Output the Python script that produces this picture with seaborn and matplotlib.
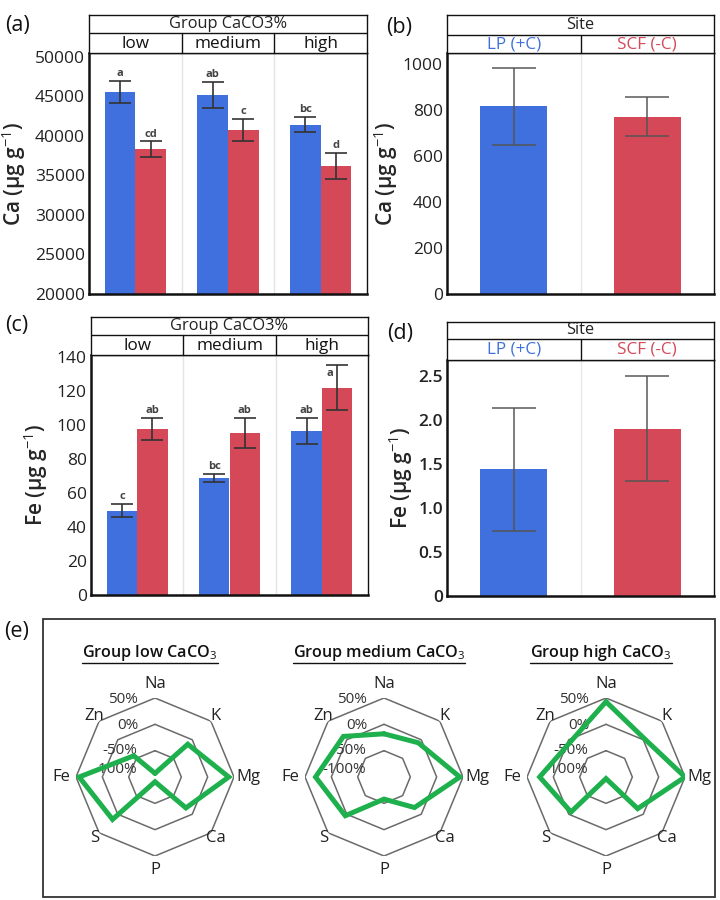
import numpy as np
import pandas as pd
import matplotlib
matplotlib.use("Agg")
import matplotlib.pyplot as plt
from matplotlib.lines import Line2D
from matplotlib.patches import Rectangle
import seaborn as sns

# ---- data ----
groups = ["low", "medium", "high"]
sites = ["LP (+C)", "SCF (-C)"]

ca_grp_lp = [45600, 45200, 41450]
ca_grp_scf = [38300, 40700, 36200]
ca_grp_lp_err = [1400, 1600, 1000]
ca_grp_scf_err = [1000, 1400, 1600]
ca_letters_lp = ["a", "ab", "bc"]
ca_letters_scf = ["cd", "c", "d"]

fe_grp_lp = [49.6, 68.8, 96.5]
fe_grp_scf = [97.5, 95.2, 121.8]
fe_grp_lp_err = [3.9, 2.2, 7.6]
fe_grp_scf_err = [6.4, 8.6, 13.4]
fe_letters_lp = ["c", "bc", "ab"]
fe_letters_scf = ["ab", "ab", "a"]

ca_site = [818, 772]
ca_site_err = [168, 85]
fe_site = [1.44, 1.90]
fe_site_err = [0.70, 0.595]

ca_grp_ticks = [20000, 25000, 30000, 35000, 40000, 45000, 50000]
fe_grp_ticks = [0, 20, 40, 60, 80, 100, 120, 140]
ca_site_ticks = [0, 200, 400, 600, 800, 1000]
fe_site_ticks = [0, 0.5, 1.0, 1.5, 2.0, 2.5]
fe_site_ticklabels = ["0", "0.5", "1.0", "1.5", "2.0", "2.5"]

elements = ["Na", "K", "Mg", "Ca", "P", "S", "Fe", "Zn"]
radar_titles = ["Group low CaCO$_3$", "Group medium CaCO$_3$", "Group high CaCO$_3$"]
radar_low = [-93, -12, 40, -17, -91, 14, 44, -43]
radar_medium = [-18, -8, 44, -18, -58, 4, 30, 9]
radar_high = [43, 3, 50, -15, -97, -6, 26, -5]
ring_levels = [-50, 0, 50]
ring_labels = ["50%", "0%", "-50%", "-100%"]

BLUE = "#4070dd"
RED = "#d44858"
GREEN = "#1fb04e"

sns.set_theme(style="white")
plt.rcParams["font.family"] = ["Open Sans", "DejaVu Sans"]
plt.rcParams["mathtext.fontset"] = "custom"
plt.rcParams["mathtext.rm"] = "Open Sans"
plt.rcParams["mathtext.it"] = "Open Sans:italic"
plt.rcParams["mathtext.bf"] = "Open Sans:bold"

W, H = 720, 900
fig = plt.figure(figsize=(7.2, 9), dpi=100)


def px_axes(x0, y0, x1, y1, **kw):
    # pixel box (top-left origin) -> figure axes
    return fig.add_axes([x0 / W, 1 - y1 / H, (x1 - x0) / W, (y1 - y0) / H], **kw)


def style_frame(ax, tick_weight="normal"):
    for side, sp in ax.spines.items():
        sp.set_visible(True)
        sp.set_color("#111111")
        sp.set_linewidth(1.8 if side in ("left", "bottom") else 1.0)
    ax.tick_params(axis="y", length=0, pad=3, labelsize=12.5, labelcolor="#222222")
    for lab in ax.get_yticklabels():
        lab.set_fontweight(tick_weight)
    ax.set_xticks([])
    ax.set_xlabel("")


def add_header(ax, y_top, y_mid, y_bot, title, labels, colors):
    pos = ax.get_position()
    hax = fig.add_axes([pos.x0, 1 - y_bot / H, pos.width, (y_bot - y_top) / H])
    hax.set_xlim(ax.get_xlim())
    hax.set_ylim(y_bot, y_top)
    hax.set_xticks([])
    hax.set_yticks([])
    for sp in hax.spines.values():
        sp.set_visible(True)
        sp.set_color("#111111")
        sp.set_linewidth(1.0)
    hax.axhline(y_mid, color="#111111", lw=1.0)
    for b in np.arange(0.5, len(labels) - 0.5, 1.0):
        hax.plot([b, b], [y_mid, y_bot], color="#111111", lw=1.0)
    xm = (len(labels) - 1) / 2
    hax.text(xm, (y_top + y_mid) / 2, title, ha="center", va="center",
             fontsize=11.8, color="#222222")
    for i, (lab, c) in enumerate(zip(labels, colors)):
        hax.text(i, (y_mid + y_bot) / 2 + 0.5, lab, ha="center", va="center",
                 fontsize=12.3, color=c)


def group_panel(ax, lp, scf, lp_err, scf_err, lp_let, scf_let, ylim, ticks, ylabel, pad):
    df = pd.DataFrame({
        "group": groups * 2,
        "site": [sites[0]] * len(groups) + [sites[1]] * len(groups),
        "value": lp + scf,
    })
    sns.barplot(data=df, x="group", y="value", hue="site", order=groups,
                hue_order=sites, palette=[BLUE, RED], width=0.66, gap=0,
                errorbar=None, legend=False, saturation=1, linewidth=0, ax=ax)
    errs = lp_err + scf_err
    letters = lp_let + scf_let
    for patch, err, let in zip(ax.patches, errs, letters):
        x = patch.get_x() + patch.get_width() / 2
        h = patch.get_height()
        ax.errorbar(x, h, yerr=err, color="#333333", lw=1.2, capsize=8, capthick=1.2)
        if h + err + 5 * pad > ylim[1]:
            # no room above the cap: tuck the letter under it, left of the bar
            ax.text(x - 0.04, h + err - 1.5 * pad, let, ha="right", va="top",
                    fontsize=8, color="#444444", fontweight="bold")
        else:
            ax.text(x, h + err + pad, let, ha="center", va="bottom", fontsize=8,
                    color="#444444", fontweight="bold")
    for b in [0.5, 1.5]:
        ax.axvline(b, color="#e4e4e4", lw=1.0, zorder=0)
    ax.set_xlim(-0.5, len(groups) - 0.5)
    ax.set_ylim(*ylim)
    ax.set_yticks(ticks)
    ax.set_ylabel(ylabel, fontsize=15, fontweight="semibold", labelpad=5)
    style_frame(ax)


def site_panel(ax, vals, errs, ylim, ticks, ticklabels, ylabel, tick_weight):
    df = pd.DataFrame({"site": sites, "value": vals})
    sns.barplot(data=df, x="site", y="value", hue="site", order=sites,
                palette=[BLUE, RED], width=0.5, errorbar=None, legend=False,
                saturation=1, linewidth=0, ax=ax)
    for patch, err in zip(ax.patches, errs):
        x = patch.get_x() + patch.get_width() / 2
        ax.errorbar(x, patch.get_height(), yerr=err, color="#555555", alpha=0.9,
                    lw=1.2, capsize=16, capthick=1.2)
    ax.axvline(0.5, color="#e8e8e8", lw=1.0, zorder=0)
    ax.set_xlim(-0.5, len(sites) - 0.5)
    ax.set_ylim(*ylim)
    ax.set_yticks(ticks)
    if ticklabels is not None:
        ax.set_yticklabels(ticklabels)
    ax.set_ylabel(ylabel, fontsize=15, fontweight="semibold", labelpad=2)
    style_frame(ax, tick_weight)


# (a)
ax_a = px_axes(89, 53, 367, 294)
group_panel(ax_a, ca_grp_lp, ca_grp_scf, ca_grp_lp_err, ca_grp_scf_err,
            ca_letters_lp, ca_letters_scf, (20000, 50500), ca_grp_ticks,
            "Ca (µg g$^{-1}$)", 250)
add_header(ax_a, 15, 33, 53, "Group CaCO3%", groups, ["#111111"] * 3)

# (b)
ax_b = px_axes(447, 53, 714, 294)
site_panel(ax_b, ca_site, ca_site_err, (0, 1050), ca_site_ticks, None,
           "Ca (µg g$^{-1}$)", "normal")
add_header(ax_b, 15, 35, 53, "Site", sites, [BLUE, RED])

# (c)
ax_c = px_axes(91, 355, 368, 595)
group_panel(ax_c, fe_grp_lp, fe_grp_scf, fe_grp_lp_err, fe_grp_scf_err,
            fe_letters_lp, fe_letters_scf, (0, 141), fe_grp_ticks,
            "Fe (µg g$^{-1}$)", 1.2)
add_header(ax_c, 317, 335, 355, "Group CaCO3%", groups, ["#111111"] * 3)

# (d)
ax_d = px_axes(447, 360, 714, 596)
site_panel(ax_d, fe_site, fe_site_err, (0, 2.68), fe_site_ticks, fe_site_ticklabels,
           "Fe (µg g$^{-1}$)", "semibold")
add_header(ax_d, 322, 339, 360, "Site", sites, [BLUE, RED])

# panel letters
for lab, x, y in [("(a)", 17, 25), ("(b)", 399, 27), ("(c)", 17, 325),
                  ("(d)", 400, 333), ("(e)", 17, 632)]:
    fig.text(x / W, 1 - y / H, lab, ha="center", va="center", fontsize=15.5,
             color="#111111")

# (e) radar box
fig.add_artist(Rectangle((43 / W, 1 - 897 / H), (715 - 43) / W, (897 - 619) / H,
                         transform=fig.transFigure, fill=False, lw=1.3,
                         ec="#333333"))

angles = np.linspace(0, 2 * np.pi, len(elements), endpoint=False)
closed = np.append(angles, 2 * np.pi)
radius_px = 79
centers_x = [155, 384, 606]
center_y = 777
ring_label_pos = [(0.30, 0.99), (0.33, 0.825), (0.28, 0.665), (0.25, 0.545)]

title_texts = []
for title, vals, cx in zip(radar_titles, [radar_low, radar_medium, radar_high], centers_x):
    pax = px_axes(cx - radius_px, center_y - radius_px, cx + radius_px,
                  center_y + radius_px, projection="polar")
    pax.set_theta_zero_location("N")
    pax.set_theta_direction(-1)
    pax.set_ylim(-100, 50)
    pax.grid(False)
    pax.spines["polar"].set_visible(False)
    pax.set_xticks([])
    pax.set_yticks([])
    pax.patch.set_alpha(0)
    for lvl in ring_levels:
        pax.plot(closed, [lvl] * len(closed), color="#6a6a6a", lw=1.1, zorder=1)
    for (tx, ty), lab in zip(ring_label_pos, ring_labels):
        pax.text(tx, ty, lab, transform=pax.transAxes, ha="center", va="center",
                 fontsize=11, color="#333333", zorder=2)
    sns.lineplot(x=closed, y=list(vals) + [vals[0]], sort=False, estimator=None,
                 color=GREEN, lw=3.6, ax=pax, zorder=3, solid_joinstyle="miter")
    pax.set_xlabel("")
    pax.set_ylabel("")
    for i, (ang, el) in enumerate(zip(angles, elements)):
        r = 77 if i % 2 == 0 else 63
        pax.text(ang, r, el, ha="center", va="center", fontsize=12, color="#222222")
    t = fig.text((cx - 5) / W, 1 - 653 / H, title, ha="center", va="center",
                 fontsize=11.6, fontweight="semibold", color="#111111")
    title_texts.append(t)

# underline the radar titles
fig.canvas.draw()
renderer = fig.canvas.get_renderer()
for t in title_texts:
    bb = t.get_window_extent(renderer).transformed(fig.transFigure.inverted())
    fig.add_artist(Line2D([bb.x0, bb.x1], [1 - 663 / H] * 2, transform=fig.transFigure,
                          color="#111111", lw=1.0))

fig.savefig("out.png", dpi=100)
